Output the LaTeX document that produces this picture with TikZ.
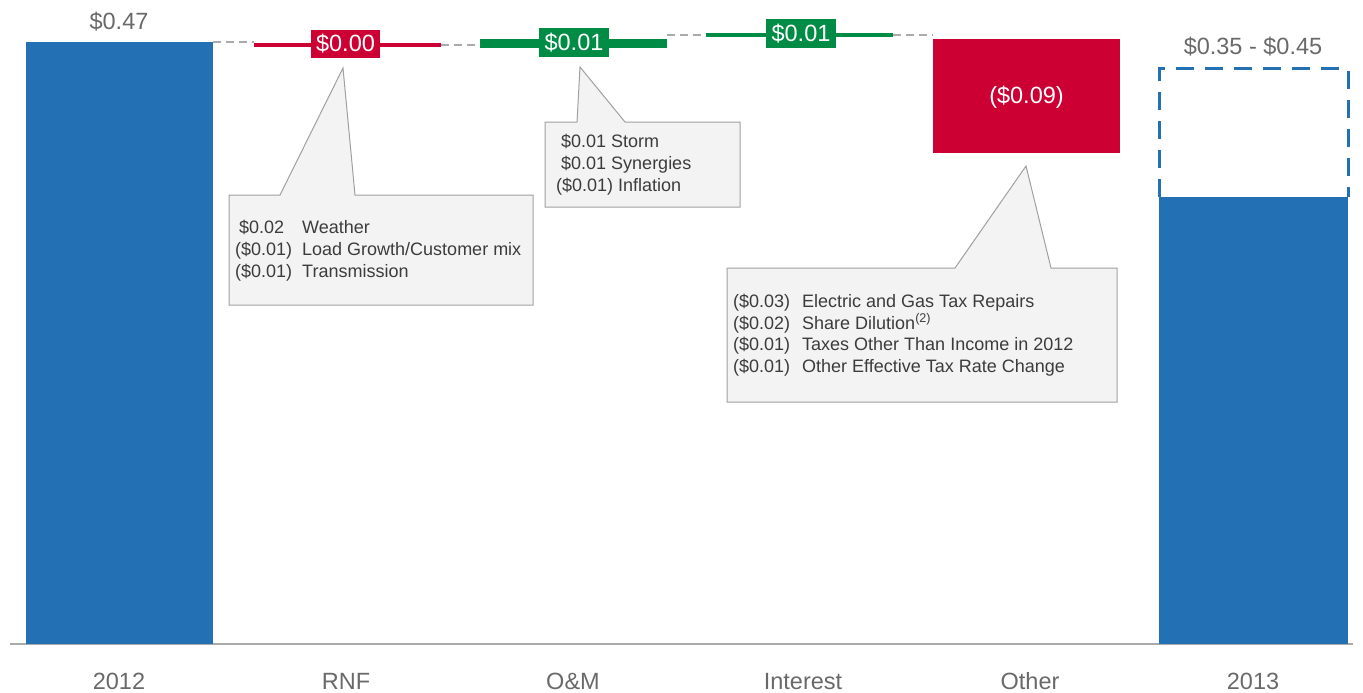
\documentclass[tikz,border=0pt]{standalone}
\usepackage{fontspec}
\setmainfont{Liberation Sans}
\definecolor{barblue}{RGB}{35,112,180}
\definecolor{negred}{RGB}{204,0,51}
\definecolor{posgreen}{RGB}{0,140,69}
\definecolor{txtgray}{RGB}{105,105,105}
\definecolor{calltxt}{RGB}{60,60,60}
\definecolor{callfill}{RGB}{243,243,243}
\definecolor{callline}{RGB}{160,160,160}
\definecolor{conngray}{RGB}{170,170,170}
\begin{document}
\begin{tikzpicture}[x=1pt,y=-1pt,
  rect/.style={draw=none, inner sep=0pt, outer sep=0pt, anchor=north west},
  bluebar/.style={rect, fill=barblue},
  redfill/.style={rect, fill=negred},
  greenfill/.style={rect, fill=posgreen},
  vallabel/.style={inner sep=0pt, outer sep=0pt, text=white, font=\fontsize{23.5}{28}\selectfont},
  toplabel/.style={inner sep=0pt, anchor=base, text=txtgray, font=\fontsize{23.5}{28}\selectfont},
  axlabel/.style={inner sep=0pt, anchor=base, text=txtgray, font=\fontsize{23.5}{28}\selectfont},
  ctext/.style={inner sep=0pt, anchor=base west, text=calltxt, font=\fontsize{18}{22}\selectfont},
  callout/.style={fill=callfill, draw=callline, line width=1pt, line join=miter},
  connector/.style={draw=conngray, line width=1.2pt, dash pattern=on 8pt off 5pt}
]
\useasboundingbox (0,0) rectangle (1363,693);

% axis
\coordinate (axl) at (10,644);
\coordinate (axr) at (1353,644);
\draw[conngray, line width=1.5pt] (axl) -- (axr);

% 2012 bar
\node[bluebar, minimum width=187pt, minimum height=602pt] (b2012) at (26,42) {};
\node[toplabel] (l2012) at (119,30) {\$0.47};

% RNF
\node[redfill, minimum width=187pt, minimum height=4pt, anchor=west] (rnf) at (254,45) {};
\node[redfill, minimum width=69pt, minimum height=28pt] (rnfbox) at (311,30) {};
\node[vallabel, anchor=base] (rnfval) at (345.5,52) {\$0.00};

% O&M
\node[greenfill, minimum width=187pt, minimum height=9pt, anchor=west] (om) at (480,43.5) {};
\node[greenfill, minimum width=70pt, minimum height=29pt] (ombox) at (539,28) {};
\node[vallabel, anchor=base] (omval) at (574,51) {\$0.01};

% Interest
\node[greenfill, minimum width=187pt, minimum height=4pt, anchor=west] (int) at (706,35) {};
\node[greenfill, minimum width=70pt, minimum height=29pt] (intbox) at (766,19) {};
\node[vallabel, anchor=base] (intval) at (801,42) {\$0.01};

% Other
\node[redfill, minimum width=187pt, minimum height=114pt] (oth) at (933,39) {};
\node[vallabel, anchor=base] (othval) at (1026.5,103) {(\$0.09)};

% 2013
\node[bluebar, minimum width=189pt, minimum height=447pt] (b2013) at (1159,197) {};
\coordinate (d1) at (1159,69);
\coordinate (d2) at (1348,69);
\draw[barblue, line width=3pt, dash pattern=on 18pt off 11pt] (b2013.north west) -- (d1) -- (d2) -- (b2013.north east);
\node[toplabel] (l2013) at (1253,55) {\$0.35 - \$0.45};

% connectors
\draw[connector] (b2012.north east) -- (b2012.north east -| rnf.west);
\draw[connector] (rnf.east) -- (rnf.east -| om.west);
\draw[connector] (int.west -| om.east) -- (int.west);
\draw[connector] (int.east) -- (int.east -| oth.west);

% axis labels
\node[axlabel] (x1) at (119,689) {2012};
\node[axlabel] (x2) at (346,689) {RNF};
\node[axlabel] (x3) at (573,689) {O\&M};
\node[axlabel] (x4) at (803,689) {Interest};
\node[axlabel] (x5) at (1030,689) {Other};
\node[axlabel] (x6) at (1253,689) {2013};

% callout RNF
\node[rect, minimum width=304pt, minimum height=110pt] (c1) at (229,195) {};
\coordinate (c1l) at (280,195);
\coordinate (c1t) at (343,68);
\coordinate (c1r) at (355,195);
\filldraw[callout] (c1.north west) -- (c1l) -- (c1t) -- (c1r) -- (c1.north east) |- (c1.south west) -- cycle;
\node[ctext] (c1a1) at (239,233) {\$0.02};
\node[ctext] (c1b1) at (302,233) {Weather};
\node[ctext] (c1a2) at (235,255) {(\$0.01)};
\node[ctext] (c1b2) at (302,255) {Load Growth/Customer mix};
\node[ctext] (c1a3) at (235,277) {(\$0.01)};
\node[ctext] (c1b3) at (302,277) {Transmission};

% callout O&M
\node[rect, minimum width=195pt, minimum height=85pt] (c2) at (545,122) {};
\coordinate (c2l) at (577,122);
\coordinate (c2t) at (580,67);
\coordinate (c2r) at (625,122);
\filldraw[callout] (c2.north west) -- (c2l) -- (c2t) -- (c2r) -- (c2.north east) |- (c2.south west) -- cycle;
\node[ctext] (c2a1) at (561,147) {\$0.01 Storm};
\node[ctext] (c2a2) at (561,169) {\$0.01 Synergies};
\node[ctext] (c2a3) at (556,191) {(\$0.01) Inflation};

% callout Other
\node[rect, minimum width=390pt, minimum height=134pt] (c3) at (727,268) {};
\coordinate (c3l) at (955,268);
\coordinate (c3t) at (1026,166);
\coordinate (c3r) at (1051,268);
\filldraw[callout] (c3.north west) -- (c3l) -- (c3t) -- (c3r) -- (c3.north east) |- (c3.south west) -- cycle;
\node[ctext] (c3a1) at (733,307) {(\$0.03)};
\node[ctext] (c3b1) at (802,307) {Electric and Gas Tax Repairs};
\node[ctext] (c3a2) at (733,329) {(\$0.02)};
\node[ctext] (c3b2) at (802,329) {Share Dilution\textsuperscript{(2)}};
\node[ctext] (c3a3) at (733,350) {(\$0.01)};
\node[ctext] (c3b3) at (802,350) {Taxes Other Than Income in 2012};
\node[ctext] (c3a4) at (733,372) {(\$0.01)};
\node[ctext] (c3b4) at (802,372) {Other Effective Tax Rate Change};
\end{tikzpicture}
\end{document}
